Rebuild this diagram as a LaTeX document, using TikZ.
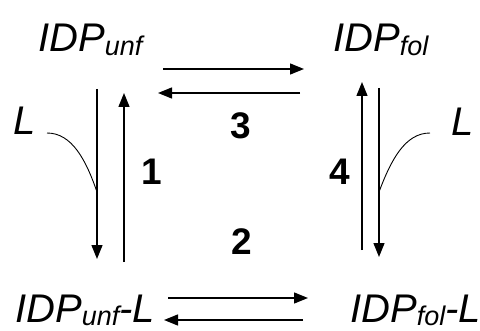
\documentclass[tikz,border=0pt]{standalone}
\usepackage{fontspec}
\setmainfont{Liberation Sans}
\usetikzlibrary{arrows.meta}
\tikzset{
  lbl/.style={inner sep=0pt, anchor=base west, font=\fontsize{40}{44}\selectfont\itshape},
  num/.style={inner sep=0pt, anchor=center, font=\fontsize{37}{40}\selectfont\bfseries},
  arr/.style={line width=1.3pt, -{Triangle[length=14pt,width=11pt]}},
  curv/.style={line width=0.9pt},
}
\newcommand{\sbs}[1]{\raisebox{-4pt}{\fontsize{27}{30}\selectfont #1}}
\newcommand{\sbb}[1]{\raisebox{-3pt}{\fontsize{27}{30}\selectfont #1}}
\begin{document}
\begin{tikzpicture}[x=1pt,y=1pt]
\useasboundingbox (0,0) rectangle (480,330);
% labels (image y measured from top -> 330-y)
\node[lbl] (uf) at (38,{330-52}) {IDP\sbs{unf}};
\node[lbl] (fo) at (333,{330-52}) {IDP\sbs{fol}};
\node[lbl] (ufl) at (15,{330-322}) {IDP\sbb{unf}-L};
\node[lbl] (fol) at (350,{330-322}) {IDP\sbb{fol}-L};
\node[lbl] (L1) at (13,{330-135}) {L};
\node[lbl] (L2) at (451,{330-136}) {L};
\node[num] (n3) at (241,{330-126}) {3};
\node[num] (n1) at (152,{330-172}) {1};
\node[num] (n4) at (340,{330-172}) {4};
\node[num] (n2) at (242,{330-242}) {2};
% arrow endpoints
\coordinate (a1s) at (163,{330-69});  \coordinate (a1e) at (304,{330-69});
\coordinate (a2s) at (300,{330-93});  \coordinate (a2e) at (158,{330-93});
\coordinate (b1s) at (97,{330-89});   \coordinate (b1e) at (97,{330-259});
\coordinate (b2s) at (124,{330-262}); \coordinate (b2e) at (124,{330-93});
\coordinate (c1s) at (362,{330-250}); \coordinate (c1e) at (362,{330-82});
\coordinate (c2s) at (379,{330-88});  \coordinate (c2e) at (379,{330-257});
\coordinate (d1s) at (168,{330-298}); \coordinate (d1e) at (308,{330-298});
\coordinate (d2s) at (303,{330-320}); \coordinate (d2e) at (164,{330-320});
\coordinate (k1s) at (47,{330-133});  \coordinate (k1e) at (97,{330-192});
\coordinate (k2s) at (430,{330-133}); \coordinate (k2e) at (379,{330-192});
\draw[arr] (a1s) -- (a1e);
\draw[arr] (a2s) -- (a2e);
\draw[arr] (b1s) -- (b1e);
\draw[arr] (b2s) -- (b2e);
\draw[arr] (c1s) -- (c1e);
\draw[arr] (c2s) -- (c2e);
\draw[arr] (d1s) -- (d1e);
\draw[arr] (d2s) -- (d2e);
\draw[curv] (k1s) .. controls (72,{330-133}) and (86,{330-160}) .. (k1e);
\draw[curv] (k2s) .. controls (405,{330-133}) and (391,{330-160}) .. (k2e);
\end{tikzpicture}
\end{document}
